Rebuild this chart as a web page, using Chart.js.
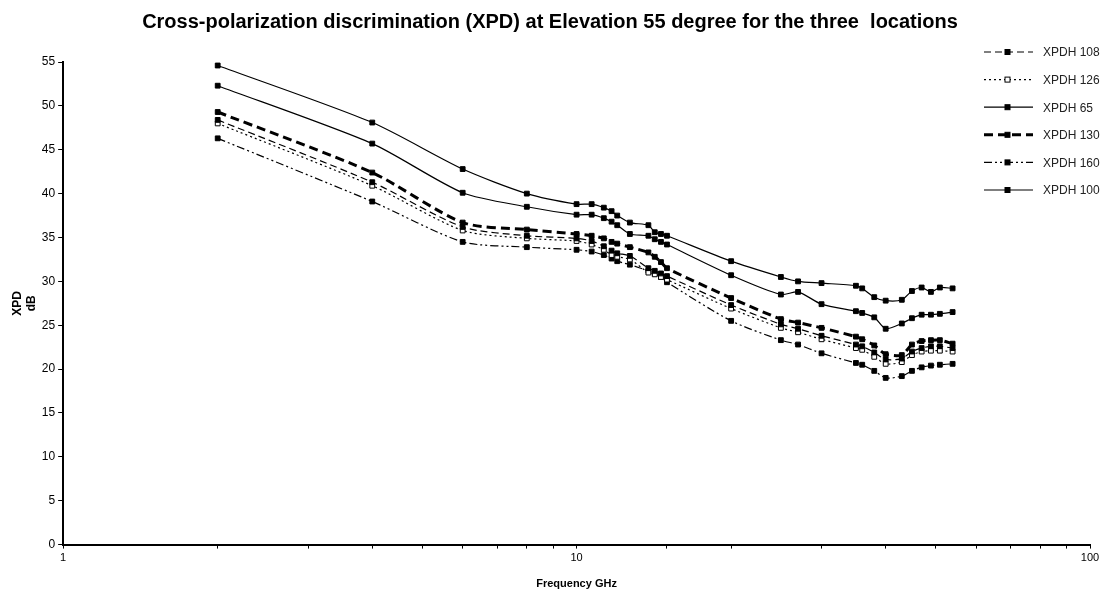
<!DOCTYPE html>
<html>
<head>
<meta charset="utf-8">
<script src="https://cdn.jsdelivr.net/npm/chart.js@4.4.1/dist/chart.umd.min.js"></script>
<style>
    html, body { margin: 0; padding: 0; background: #fff; }
    #contenedor { width: 1116px; height: 595px; position: relative; }
</style>
</head>
<body>
<div id="contenedor"><canvas id="grafico_xpd"></canvas></div>
<script>
// frequencies (GHz) shared by all curves
const freqGHz = [2, 4, 6, 8, 10, 10.7, 11.3, 11.7, 12, 12.7, 13.8, 14.2, 14.6, 15,
                 20, 25, 27, 30, 35, 36, 38, 40, 43, 45, 47, 49, 51, 54];

// XPD values (dB)
const xpdh108 = [48.4, 41.3, 36.2, 35.2, 34.9, 34.6, 34.0, 33.5, 33.2, 32.9, 31.5, 31.2, 30.9, 30.6,
                 27.3, 25.1, 24.6, 23.8, 22.8, 22.6, 21.9, 21.1, 21.2, 22.0, 22.4, 22.6, 22.6, 22.4];
const xpdh126 = [48.0, 40.9, 35.8, 34.9, 34.6, 34.2, 33.6, 33.0, 32.8, 32.5, 31.0, 30.8, 30.5, 30.2,
                 26.9, 24.7, 24.2, 23.4, 22.4, 22.2, 21.4, 20.6, 20.8, 21.6, 22.0, 22.1, 22.1, 22.0];
const xpdh65  = [52.3, 45.7, 40.1, 38.5, 37.6, 37.6, 37.2, 36.8, 36.4, 35.4, 35.2, 34.8, 34.5, 34.2,
                 30.7, 28.5, 28.8, 27.4, 26.6, 26.4, 25.9, 24.6, 25.2, 25.8, 26.2, 26.2, 26.3, 26.5];
const xpdh130 = [49.3, 42.4, 36.7, 35.9, 35.4, 35.2, 34.9, 34.5, 34.3, 33.9, 33.3, 32.8, 32.2, 31.5,
                 28.1, 25.7, 25.3, 24.7, 23.7, 23.4, 22.7, 21.7, 21.6, 22.8, 23.2, 23.3, 23.3, 22.9];
const xpdh160 = [46.3, 39.1, 34.5, 33.9, 33.6, 33.4, 33.0, 32.6, 32.3, 31.9, 31.2, 30.9, 30.5, 29.9,
                 25.5, 23.3, 22.8, 21.8, 20.7, 20.5, 19.8, 19.0, 19.2, 19.8, 20.2, 20.4, 20.5, 20.6];
const xpdh100 = [54.6, 48.1, 42.8, 40.0, 38.8, 38.8, 38.4, 38.0, 37.5, 36.7, 36.4, 35.6, 35.4, 35.2,
                 32.3, 30.5, 30.0, 29.8, 29.5, 29.2, 28.2, 27.8, 27.9, 28.9, 29.3, 28.8, 29.3, 29.2];

const seriesNames = ['XPDH 108', 'XPDH 126', 'XPDH 65', 'XPDH 130', 'XPDH 160', 'XPDH 100'];
const seriesValues = [xpdh108, xpdh126, xpdh65, xpdh130, xpdh160, xpdh100];

const yTicks = [0, 5, 10, 15, 20, 25, 30, 35, 40, 45, 50, 55];

// line look of each curve
const estilos = [
    { width: 1.2, dash: [7, 4], fill: '#000' },
    { width: 1.2, dash: [2, 3], fill: '#fff' },
    { width: 1.2, dash: [], fill: '#000' },
    { width: 3, dash: [9, 5], fill: '#000' },
    { width: 1.2, dash: [8, 3, 2, 3, 2, 3], fill: '#000' },
    { width: 1.2, dash: [], fill: '#000' }
];

const datasets = seriesNames.map((nombre, i) => ({
    label: nombre,
    data: freqGHz.map((f, j) => ({ x: f, y: seriesValues[i][j] })),
    borderColor: '#000',
    borderWidth: estilos[i].width,
    borderDash: estilos[i].dash,
    backgroundColor: estilos[i].fill,
    pointStyle: 'rect',
    pointRadius: 3.4,
    pointBorderWidth: 1,
    pointBorderColor: '#000',
    pointBackgroundColor: estilos[i].fill,
    tension: 0.25,
    fill: false
}));

// legend drawn in the upper right corner, line sample with marker
const leyenda = {
    id: 'leyenda',
    afterDraw(chart) {
        const c = chart.ctx;
        chart.data.datasets.forEach((ds, i) => {
            const y = 52 + i * 27.6;
            c.save();
            c.strokeStyle = '#000';
            c.lineWidth = ds.borderWidth;
            c.setLineDash(ds.borderDash);
            c.beginPath();
            c.moveTo(984, y);
            c.lineTo(1033, y);
            c.stroke();
            c.setLineDash([]);
            c.lineWidth = 1;
            c.fillStyle = ds.pointBackgroundColor;
            c.fillRect(1005, y - 2.5, 5, 5);
            c.strokeRect(1005, y - 2.5, 5, 5);
            c.fillStyle = '#222';
            c.font = '12px "Liberation Sans", Arial, sans-serif';
            c.textAlign = 'left';
            c.textBaseline = 'middle';
            c.fillText(ds.label, 1043, y + 1);
            c.restore();
        });
    }
};

const fuente = '"Liberation Sans", Arial, sans-serif';

const ctx = document.getElementById('grafico_xpd').getContext('2d');
const chart = new Chart(ctx, {
    type: 'line',
    data: { datasets: datasets },
    options: {
        responsive: true,
        maintainAspectRatio: false,
        animation: false,
        layout: { padding: { top: 6, right: 26, bottom: 4, left: 10 } },
        plugins: {
            legend: { display: false },
            tooltip: { enabled: false },
            title: {
                display: true,
                text: 'Cross-polarization discrimination (XPD) at Elevation 55 degree for the three  locations',
                color: '#000',
                font: { family: fuente, size: 20, weight: 'bold' },
                padding: { top: 4, bottom: 28 }
            }
        },
        scales: {
            x: {
                type: 'logarithmic',
                min: 1,
                max: 100,
                border: { color: '#000', width: 2 },
                grid: { drawOnChartArea: false, color: '#000', tickLength: 4 },
                ticks: {
                    autoSkip: false,
                    maxRotation: 0,
                    color: '#000',
                    font: { family: fuente, size: 11 },
                    callback: function (v) {
                        const l = Math.log10(v);
                        return Math.abs(l - Math.round(l)) < 1e-9 ? String(v) : '';
                    }
                },
                title: {
                    display: true,
                    text: 'Frequency GHz',
                    color: '#000',
                    font: { family: fuente, size: 11, weight: 'bold' },
                    padding: { top: 10, bottom: 0 }
                }
            },
            y: {
                min: 0,
                max: 55,
                afterBuildTicks: function (scale) {
                    scale.ticks = yTicks.map(v => ({ value: v }));
                },
                border: { color: '#000', width: 2 },
                grid: { drawOnChartArea: false, color: '#000', tickLength: 5 },
                ticks: {
                    color: '#000',
                    padding: 3,
                    font: { family: fuente, size: 12 }
                },
                title: {
                    display: true,
                    text: ['XPD', 'dB'],
                    color: '#000',
                    font: { family: fuente, size: 12, weight: 'bold' },
                    padding: { top: 0, bottom: 0 }
                }
            }
        }
    },
    plugins: [leyenda]
});
</script>
</body>
</html>
